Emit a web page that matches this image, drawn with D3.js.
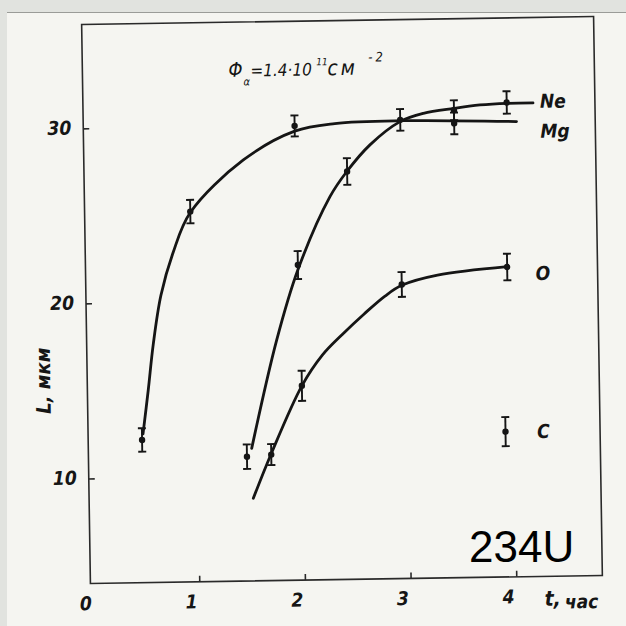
<!DOCTYPE html>
<html>
<head>
<meta charset="utf-8">
<script src="https://cdn.jsdelivr.net/npm/d3@7"></script>
<style>
  html, body { margin: 0; padding: 0; background: #e1e3df; }
  svg { display: block; }
</style>
</head>
<body>
<svg id="chart" width="626" height="626"></svg>
<script>
// ---- axis ticks ----
const hourTicks = [1, 2, 3, 4];
const hourLabels = ["0", "1", "2", "3", "4"];
const lengthTicks = [10, 20, 30];

// ---- measurements: time (h), mean range L (µm), half error bar (µm) ----
const neT   = [1.47, 1.98, 2.46, 2.97, 3.48, 3.98];
const neL   = [11.1, 22.0, 27.3, 30.2, 30.7, 31.1];
const neErr = [0.70, 0.80, 0.76, 0.62, 0.57, 0.64];

const mgT   = [0.48, 0.97, 1.97, 3.48];
const mgL   = [12.15, 25.15, 29.95, 29.95];
const mgErr = [0.67, 0.67, 0.60, 0.62];

const oT    = [1.70, 2.00, 2.96, 3.96];
const oL    = [11.2, 15.1, 20.8, 21.7];
const oErr  = [0.60, 0.86, 0.71, 0.76];

const cT    = [3.92];
const cL    = [12.3];
const cErr  = [0.83];

// ---- hand-fitted curves ----
const mgCurveT = [0.49, 0.546, 0.60, 0.68, 0.80, 0.97, 1.48, 1.97, 2.35, 3.00, 4.07];
const mgCurveL = [12.5, 15.0, 17.6, 20.4, 22.8, 25.1, 28.05, 29.65, 30.05, 30.15, 30.0];

const neCurveT = [1.516, 1.769, 1.978, 2.294, 2.456, 2.68, 2.968, 3.19, 3.48, 3.727, 3.986, 4.229];
const neCurveL = [11.57, 17.74, 21.7, 25.88, 27.29, 28.8, 30.1, 30.55, 30.81, 30.98, 31.05, 31.05];

const oCurveT = [1.524, 1.70, 2.00, 2.20, 2.39, 2.60, 2.80, 2.96, 3.30, 3.962];
const oCurveL = [8.72, 11.25, 15.1, 16.85, 18.0, 19.15, 20.15, 20.75, 21.3, 21.72];

// ---- layout ----
const W = 626, H = 626;
const svg = d3.select("#chart");

// paper sheet
svg.append("rect").attr("x", 0).attr("y", 0).attr("width", W).attr("height", H).attr("fill", "#e1e3df");
svg.append("rect").attr("x", 7).attr("y", 12).attr("width", W - 7).attr("height", H - 12).attr("fill", "#f5f5f1");
svg.append("line").attr("x1", 7).attr("x2", W).attr("y1", 12.5).attr("y2", 12.5)
  .attr("stroke", "#9a9c98").attr("stroke-width", 1);

// the drawing sits slightly tilted on the sheet
const g = svg.append("g").attr("transform", "rotate(-0.9, 342, 300)");

const x = d3.scaleLinear().domain([-0.03, 4.815]).range([86, 598]);
const y = d3.scaleLinear().domain([4, 35.93]).range([579.5, 20.5]);

const ink = "#151515";
const handFont = "'DejaVu Sans Condensed', 'DejaVu Sans', sans-serif";

// frame
g.append("rect")
  .attr("x", x.range()[0]).attr("y", y.range()[1])
  .attr("width", x.range()[1] - x.range()[0])
  .attr("height", y.range()[0] - y.range()[1])
  .attr("fill", "none").attr("stroke", "#2a2a2a").attr("stroke-width", 1.6);

// bottom axis: inward ticks, labels below
const xAxis = d3.axisBottom(x).tickValues(hourTicks).tickSizeInner(-6).tickSizeOuter(0).tickFormat("");
const gx = g.append("g").attr("transform", `translate(0,${y.range()[0]})`).call(xAxis);
gx.select(".domain").remove();
gx.selectAll(".tick line").attr("stroke", "#2a2a2a").attr("stroke-width", 1.6);

// left axis: inward ticks
const yAxis = d3.axisLeft(y).tickValues(lengthTicks).tickSizeInner(-6).tickSizeOuter(0).tickFormat("");
const gy = g.append("g").attr("transform", `translate(${x.range()[0]},0)`).call(yAxis);
gy.select(".domain").remove();
gy.selectAll(".tick line").attr("stroke", "#2a2a2a").attr("stroke-width", 1.6);

// tick labels
const labelStyle = sel => sel
  .attr("font-family", handFont).attr("font-weight", "bold").attr("font-style", "italic")
  .attr("fill", ink);

g.selectAll(".xlab").data(hourLabels).enter().append("text")
  .attr("class", "xlab")
  .attr("x", (d, i) => x(i) - 8).attr("y", 606)
  .attr("text-anchor", "middle").attr("font-size", 19)
  .text(d => d).call(labelStyle);

g.selectAll(".ylab").data(lengthTicks).enter().append("text")
  .attr("class", "ylab")
  .attr("x", 74).attr("y", d => y(d) + 6)
  .attr("text-anchor", "end").attr("font-size", 19)
  .text(d => d).call(labelStyle);

// axis titles
const tt = g.append("text").attr("x", 540).attr("y", 609).call(labelStyle);
tt.append("tspan").attr("font-size", 21).text("t,");
tt.append("tspan").attr("font-size", 19).attr("dx", 4).attr("dy", 3).text("час");

g.append("text")
  .attr("transform", "translate(49,376) rotate(-90)")
  .attr("text-anchor", "middle").attr("font-size", 20)
  .text("L, мкм").call(labelStyle);

// fluence note
const note = g.append("text").attr("y", 75)
  .attr("font-family", handFont).attr("font-style", "italic").attr("fill", ink);
note.append("tspan").attr("x", 232).attr("font-size", 20).text("Φ");
note.append("tspan").attr("x", 247).attr("font-size", 11).attr("dy", 9).text("α");
note.append("tspan").attr("x", 254).attr("font-size", 17).attr("dy", -9).text("=1.4·10");
note.append("tspan").attr("x", 320).attr("font-size", 10).attr("dy", -10).text("11");
note.append("tspan").attr("x", 331).attr("font-size", 21).attr("dy", 10).attr("letter-spacing", 3).text("см");
note.append("tspan").attr("x", 372).attr("font-size", 13).attr("dy", -13).attr("letter-spacing", 3).text("-2");

// fitted curves
const line = d3.line().x(d => x(d[0])).y(d => y(d[1])).curve(d3.curveCatmullRom.alpha(0.5));
const curves = [
  d3.zip(mgCurveT, mgCurveL),
  d3.zip(neCurveT, neCurveL),
  d3.zip(oCurveT, oCurveL)
];
g.selectAll(".fit").data(curves).enter().append("path")
  .attr("class", "fit")
  .attr("d", line)
  .attr("fill", "none").attr("stroke", ink).attr("stroke-width", 2.8)
  .attr("stroke-linecap", "round").attr("stroke-linejoin", "round");

// measured points with error bars
const series = [
  { t: neT, L: neL, e: neErr },
  { t: mgT, L: mgL, e: mgErr },
  { t: oT,  L: oL,  e: oErr },
  { t: cT,  L: cL,  e: cErr }
];
const pts = series.flatMap(s => s.t.map((t, i) => ({ t, L: s.L[i], e: s.e[i] })));

const eb = g.selectAll(".pt").data(pts).enter().append("g").attr("class", "pt");
eb.append("line")
  .attr("x1", d => x(d.t)).attr("x2", d => x(d.t))
  .attr("y1", d => y(d.L + d.e)).attr("y2", d => y(d.L - d.e))
  .attr("stroke", ink).attr("stroke-width", 1.9);
eb.append("line")
  .attr("x1", d => x(d.t) - 4).attr("x2", d => x(d.t) + 4)
  .attr("y1", d => y(d.L + d.e)).attr("y2", d => y(d.L + d.e))
  .attr("stroke", ink).attr("stroke-width", 1.9);
eb.append("line")
  .attr("x1", d => x(d.t) - 4).attr("x2", d => x(d.t) + 4)
  .attr("y1", d => y(d.L - d.e)).attr("y2", d => y(d.L - d.e))
  .attr("stroke", ink).attr("stroke-width", 1.9);
eb.append("circle")
  .attr("cx", d => x(d.t)).attr("cy", d => y(d.L)).attr("r", 3.2)
  .attr("fill", ink);

// element labels
const elemLabels = [
  { name: "Ne", x: 543, y: 111 },
  { name: "Mg", x: 543, y: 141 },
  { name: "O",  x: 536, y: 283 },
  { name: "C",  x: 535, y: 441 }
];
g.selectAll(".elem").data(elemLabels).enter().append("text")
  .attr("class", "elem")
  .attr("x", d => d.x).attr("y", d => d.y)
  .attr("font-size", 19)
  .text(d => d.name).call(labelStyle);

// isotope tag
svg.append("text")
  .attr("x", 469).attr("y", 562)
  .attr("font-family", "'Liberation Sans', Arial, sans-serif")
  .attr("font-size", 44).attr("fill", "#000")
  .text("234U");
</script>
</body>
</html>
